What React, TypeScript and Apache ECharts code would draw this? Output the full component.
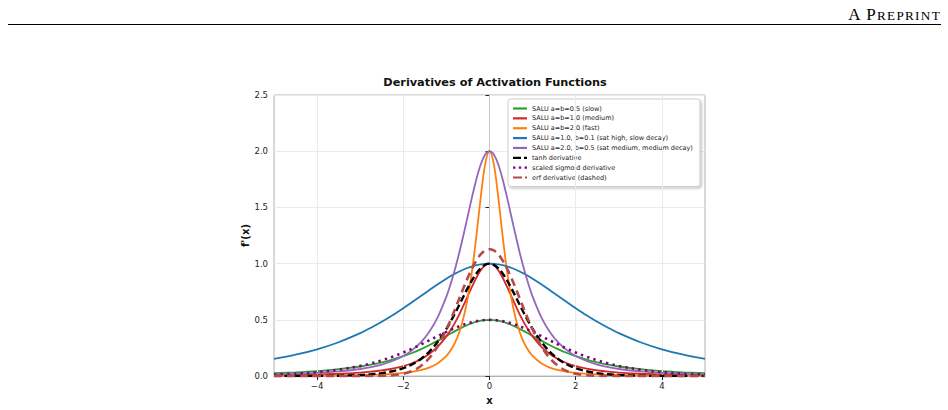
import React, { useEffect, useRef } from "react";
import * as echarts from "echarts";

const xs = [-5, -4.5, -4, -3.5, -3, -2.75, -2.5, -2.25, -2, -1.8, -1.6, -1.4, -1.2, -1, -0.9, -0.8, -0.7, -0.6, -0.5, -0.4, -0.3, -0.2, -0.1, 0, 0.1, 0.2, 0.3, 0.4, 0.5, 0.6, 0.7, 0.8, 0.9, 1, 1.2, 1.4, 1.6, 1.8, 2, 2.25, 2.5, 2.75, 3, 3.5, 4, 4.5, 5];

const saluSlow = [0.0256, 0.0335, 0.0447, 0.0611, 0.0853, 0.1017, 0.1219, 0.1466, 0.1768, 0.2053, 0.2381, 0.2749, 0.3153, 0.3578, 0.3792, 0.4002, 0.4204, 0.4394, 0.4565, 0.4714, 0.4836, 0.4926, 0.4981, 0.5, 0.4981, 0.4926, 0.4836, 0.4714, 0.4565, 0.4394, 0.4204, 0.4002, 0.3792, 0.3578, 0.3153, 0.2749, 0.2381, 0.2053, 0.1768, 0.1466, 0.1219, 0.1017, 0.0853, 0.0611, 0.0447, 0.0335, 0.0256];
const saluMedium = [0.0075, 0.0102, 0.0143, 0.0207, 0.0316, 0.0399, 0.0512, 0.0670, 0.0894, 0.1145, 0.1489, 0.1964, 0.2624, 0.3536, 0.4107, 0.4761, 0.5498, 0.6305, 0.7155, 0.8004, 0.8787, 0.9429, 0.9852, 1, 0.9852, 0.9429, 0.8787, 0.8004, 0.7155, 0.6305, 0.5498, 0.4761, 0.4107, 0.3536, 0.2624, 0.1964, 0.1489, 0.1145, 0.0894, 0.0670, 0.0512, 0.0399, 0.0316, 0.0207, 0.0143, 0.0102, 0.0075];
const saluFast = [0.0020, 0.0027, 0.0038, 0.0057, 0.0089, 0.0114, 0.0151, 0.0204, 0.0285, 0.0383, 0.0531, 0.0761, 0.1138, 0.1789, 0.2291, 0.2978, 0.3927, 0.5247, 0.7071, 0.9523, 1.2610, 1.6008, 1.8857, 2, 1.8857, 1.6008, 1.2610, 0.9523, 0.7071, 0.5247, 0.3927, 0.2978, 0.2291, 0.1789, 0.1138, 0.0761, 0.0531, 0.0383, 0.0285, 0.0204, 0.0151, 0.0114, 0.0089, 0.0057, 0.0038, 0.0027, 0.0020];
const saluSatHigh = [0.1527, 0.1901, 0.2385, 0.3013, 0.3818, 0.4297, 0.4828, 0.5409, 0.6037, 0.6564, 0.7104, 0.7645, 0.8173, 0.8668, 0.8897, 0.9111, 0.9308, 0.9483, 0.9636, 0.9765, 0.9867, 0.9940, 0.9985, 1, 0.9985, 0.9940, 0.9867, 0.9765, 0.9636, 0.9483, 0.9308, 0.9111, 0.8897, 0.8668, 0.8173, 0.7645, 0.7104, 0.6564, 0.6037, 0.5409, 0.4828, 0.4297, 0.3818, 0.3013, 0.2385, 0.1901, 0.1527];
const saluSatMedium = [0.0150, 0.0204, 0.0286, 0.0414, 0.0632, 0.0798, 0.1024, 0.1340, 0.1788, 0.2290, 0.2978, 0.3928, 0.5248, 0.7072, 0.8214, 0.9522, 1.0996, 1.2610, 1.4310, 1.6008, 1.7574, 1.8858, 1.9704, 2, 1.9704, 1.8858, 1.7574, 1.6008, 1.4310, 1.2610, 1.0996, 0.9522, 0.8214, 0.7072, 0.5248, 0.3928, 0.2978, 0.2290, 0.1788, 0.1340, 0.1024, 0.0798, 0.0632, 0.0414, 0.0286, 0.0204, 0.0150];
const tanhDeriv = [0.0002, 0.0005, 0.0013, 0.0036, 0.0099, 0.0162, 0.0266, 0.0435, 0.0707, 0.1036, 0.1505, 0.2162, 0.3050, 0.4200, 0.4869, 0.5591, 0.6347, 0.7116, 0.7864, 0.8556, 0.9151, 0.9610, 0.9901, 1, 0.9901, 0.9610, 0.9151, 0.8556, 0.7864, 0.7116, 0.6347, 0.5591, 0.4869, 0.4200, 0.3050, 0.2162, 0.1505, 0.1036, 0.0707, 0.0435, 0.0266, 0.0162, 0.0099, 0.0036, 0.0013, 0.0005, 0.0002];
const sigmoidDeriv = [0.0133, 0.0217, 0.0353, 0.0569, 0.0904, 0.1130, 0.1402, 0.1725, 0.2100, 0.2435, 0.2795, 0.3174, 0.3558, 0.3932, 0.4110, 0.4278, 0.4434, 0.4576, 0.4700, 0.4805, 0.4889, 0.4950, 0.4988, 0.5, 0.4988, 0.4950, 0.4889, 0.4805, 0.4700, 0.4576, 0.4434, 0.4278, 0.4110, 0.3932, 0.3558, 0.3174, 0.2795, 0.2435, 0.2100, 0.1725, 0.1402, 0.1130, 0.0904, 0.0569, 0.0353, 0.0217, 0.0133];
const erfDeriv = [0, 0, 0, 0, 0.0001, 0.0006, 0.0022, 0.0071, 0.0207, 0.0442, 0.0872, 0.1589, 0.2674, 0.4151, 0.5020, 0.5950, 0.6913, 0.7873, 0.8788, 0.9616, 1.0313, 1.0842, 1.1172, 1.1284, 1.1172, 1.0842, 1.0313, 0.9616, 0.8788, 0.7873, 0.6913, 0.5950, 0.5020, 0.4151, 0.2674, 0.1589, 0.0872, 0.0442, 0.0207, 0.0071, 0.0022, 0.0006, 0.0001, 0, 0, 0, 0];

const xTicks = [-4, -2, 0, 2, 4];
const seriesNames = [
  "SALU a=b=0.5 (slow)",
  "SALU a=b=1.0 (medium)",
  "SALU a=b=2.0 (fast)",
  "SALU a=1.0, b=0.1 (sat high, slow decay)",
  "SALU a=2.0, b=0.5 (sat medium, medium decay)",
  "tanh derivative",
  "scaled sigmoid derivative",
  "erf derivative (dashed)",
];
const seriesValues = [saluSlow, saluMedium, saluFast, saluSatHigh, saluSatMedium, tanhDeriv, sigmoidDeriv, erfDeriv];
const seriesColors = ["#2ca02c", "#d62728", "#ff7f0e", "#1f77b4", "#9467bd", "#000000", "#800080", "#b44a4a"];
const seriesWidths = [1.8, 1.8, 1.8, 1.8, 1.8, 2.4, 2.6, 2.6];
const seriesDash: any[] = ["solid", "solid", "solid", "solid", "solid", [7, 3.5], [2.4, 4.2], [8, 5]];
const legendIcons = [
  "path://M0,0h14v2h-14z",
  "path://M0,0h14v2h-14z",
  "path://M0,0h14v2h-14z",
  "path://M0,0h14v2h-14z",
  "path://M0,0h14v2h-14z",
  "path://M0,0h8v2.4h-8z M11,0h3v2.4h-3z",
  "path://M0,0h2.4v2.4h-2.4z M5.8,0h2.4v2.4h-2.4z M11.6,0h2.4v2.4h-2.4z",
  "path://M0,0h9v2.4h-9z M12,0h2v2.4h-2z",
];

const FONT = "DejaVu Sans";

export default function App() {
  const ref = useRef<HTMLDivElement>(null);
  useEffect(() => {
    if (!ref.current) return;
    const chart = echarts.init(ref.current, null, { renderer: "svg" });
    const fmtX = (v: number) => (v < 0 ? "\u2212" + Math.abs(v) : String(v));
    const lineSeries = seriesNames.map((name, i) => ({
      name,
      type: "line",
      data: xs.map((x, j) => [x, seriesValues[i][j]]),
      symbol: "none",
      smooth: 0.35,
      z: 3 + i,
      lineStyle: { color: seriesColors[i], width: seriesWidths[i], type: seriesDash[i], cap: "butt" },
      itemStyle: { color: seriesColors[i] },
    }));
    chart.setOption({
      animation: false,
      title: {
        text: "Derivatives of Activation Functions",
        left: 490,
        top: 72,
        textAlign: "center",
        textStyle: { fontFamily: FONT, fontSize: 11.3, fontWeight: "bold", color: "#111" },
      },
      legend: {
        data: seriesNames.map((name, i) => ({ name, icon: legendIcons[i] })),
        orient: "vertical",
        left: 508,
        top: 99,
        itemWidth: 14,
        itemHeight: 2.2,
        symbolKeepAspect: false,
        itemGap: 1.86,
        padding: [5.5, 7, 5, 5],
        backgroundColor: "#ffffff",
        borderColor: "#cfcfcf",
        borderWidth: 1,
        borderRadius: 3,
        shadowColor: "rgba(0,0,0,0.25)",
        shadowBlur: 2,
        shadowOffsetX: 1.5,
        shadowOffsetY: 1.5,
        textStyle: { fontFamily: FONT, fontSize: 6.5, color: "#222", lineHeight: 8 },
      },
      grid: {
        left: 274,
        top: 95,
        width: 431,
        height: 284,
        show: true,
        borderColor: "#b0b0b0",
        borderWidth: 1,
        backgroundColor: "transparent",
      },
      xAxis: {
        type: "value",
        min: -5,
        max: 5,
        name: "x",
        nameLocation: "middle",
        nameGap: 17,
        nameTextStyle: { fontFamily: FONT, fontSize: 10, fontWeight: "bold", color: "#111" },
        axisLine: { show: true, onZero: false, lineStyle: { color: "#b0b0b0", width: 1 } },
        axisTick: { show: true, length: 4, customValues: xTicks, lineStyle: { color: "#222" } },
        axisLabel: {
          customValues: xTicks,
          formatter: fmtX,
          margin: 5,
          fontFamily: FONT,
          fontSize: 8.5,
          color: "#222",
        },
        splitLine: { show: false },
      },
      yAxis: {
        type: "value",
        min: 0,
        max: 2.5,
        interval: 0.5,
        name: "f'(x)",
        nameLocation: "middle",
        nameRotate: 90,
        nameGap: 20,
        nameTextStyle: { fontFamily: FONT, fontSize: 10, fontWeight: "bold", color: "#111" },
        axisLine: { show: true, lineStyle: { color: "#b0b0b0", width: 1 } },
        axisTick: { show: true, length: 4, lineStyle: { color: "#222" } },
        axisLabel: {
          formatter: (v: number) => v.toFixed(1),
          margin: 6,
          fontFamily: FONT,
          fontSize: 8.5,
          color: "#222",
        },
        splitLine: { show: true, lineStyle: { color: "#ebebeb", width: 1 } },
      },
      series: [
        {
          type: "line",
          data: [],
          z: 1,
          silent: true,
          markLine: {
            silent: true,
            symbol: "none",
            label: { show: false },
            animation: false,
            data: xTicks.map((v) => ({
              xAxis: v,
              lineStyle: { color: v === 0 ? "#c8c8c8" : "#ebebeb", width: 1, type: "solid" },
            })),
          },
        },
        ...lineSeries,
      ],
    } as any);
    return () => chart.dispose();
  }, []);

  return (
    <div style={{ position: "fixed", left: 0, top: 0, width: 948, height: 410, background: "#fff" }}>
      <div ref={ref} style={{ position: "absolute", left: 0, top: 0, width: 948, height: 410 }} />
      <div
        style={{
          position: "absolute",
          right: 7,
          top: 6,
          fontFamily: "'Liberation Serif', serif",
          lineHeight: "17px",
          color: "#000",
          whiteSpace: "nowrap",
          letterSpacing: "1.2px",
          zIndex: 2,
        }}
      >
        <span style={{ fontSize: 17 }}>A P</span>
        <span style={{ fontSize: 13.2, letterSpacing: "1.3px" }}>REPRINT</span>
      </div>
      <div style={{ position: "absolute", left: 8, top: 24, width: 933, height: 1, background: "#000", zIndex: 2 }} />
    </div>
  );
}
